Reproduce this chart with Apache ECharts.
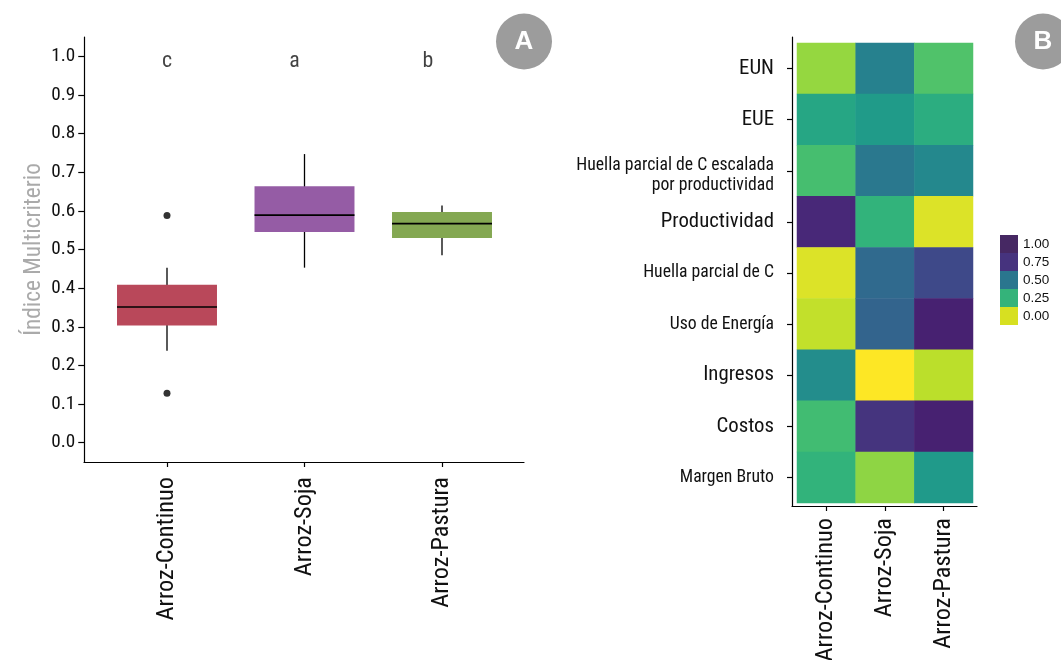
<!DOCTYPE html>
<html><head><meta charset="utf-8">
<script src="https://cdn.jsdelivr.net/npm/echarts@6/dist/echarts.min.js"></script>
<style>html,body{margin:0;padding:0;background:#fff}#c{width:1061px;height:660px}</style>
</head><body><div id="c"></div>
<script>
// ---------- data ----------
const systems = ['Arroz-Continuo', 'Arroz-Soja', 'Arroz-Pastura'];
const whiskerLow  = [0.238, 0.453, 0.485];
const quartile1   = [0.303, 0.545, 0.530];
const medians     = [0.351, 0.589, 0.567];
const quartile3   = [0.409, 0.664, 0.597];
const whiskerHigh = [0.453, 0.747, 0.614];
const outlierSystem = [0, 0];
const outlierValue  = [0.588, 0.128];
const groupLetters  = ['c', 'a', 'b'];
const yTickValues = [0, 0.1, 0.2, 0.3, 0.4, 0.5, 0.6, 0.7, 0.8, 0.9, 1.0];

const criteria = ['EUN', 'EUE', 'Huella parcial de C escalada\npor productividad', 'Productividad',
  'Huella parcial de C', 'Uso de Energía', 'Ingresos', 'Costos', 'Margen Bruto'];
const scoreContinuo = [0.16, 0.41, 0.30, 0.89, 0.05, 0.09, 0.51, 0.31, 0.35];
const scoreSoja     = [0.56, 0.455, 0.60, 0.35, 0.66, 0.68, 0.00, 0.85, 0.17];
const scorePastura  = [0.28, 0.38, 0.53, 0.05, 0.78, 0.91, 0.10, 0.91, 0.46];
const legendBreaks = [0, 0.25, 0.5, 0.75, 1];

// ---------- fonts: pick the narrowest available condensed family ----------
function hasFont(name) {
  const ctx = document.createElement('canvas').getContext('2d');
  const probe = 'Productividad mmmWWiil 0123';
  let differs = false;
  ['monospace', 'serif'].forEach(fb => {
    ctx.font = '40px ' + fb; const a = ctx.measureText(probe).width;
    ctx.font = '40px "' + name + '", ' + fb; const b = ctx.measureText(probe).width;
    if (Math.abs(a - b) > 0.5) differs = true;
  });
  return differs;
}
const candidates = ['Liberation Sans Narrow', 'Roboto Condensed', 'Noto Sans Condensed', 'Open Sans Condensed', 'DejaVu Sans Condensed'];
const narrowName = candidates.find(hasFont) || 'DejaVu Sans Condensed';
const NARROW = '"' + narrowName + '", sans-serif';
// width of the chosen font relative to Arial Narrow (per px of font size)
const widthFactor = (function () {
  const ctx = document.createElement('canvas').getContext('2d');
  ctx.font = '100px ' + NARROW;
  return ctx.measureText('Productividad').width / 100 / 4.968;
})();
const fs = s => Math.round(s / widthFactor * 10) / 10;

// ---------- styles ----------
const REGULAR = '"Liberation Sans", Arial, sans-serif';
const INK = '#111111';
const boxColors = ['#b9485a', '#955ca5', '#84a852'];
const BOX_FRACTION = 0.727;
const letterLevel = 0.99;
const letterDx = [0, -10, -14];
const viridisRev = ['#FDE725', '#B4DE2C', '#6DCD59', '#35B779', '#1F9E89', '#26828E', '#31688E', '#3E4A89', '#482878', '#440154'];
const legendColors = ['#d7e021', '#34b37a', '#2a768e', '#46337e', '#462863'];
const bigLabels = ['EUN', 'EUE', 'Productividad', 'Ingresos', 'Costos'];

const scoreColumns = [scoreContinuo, scoreSoja, scorePastura];
const heatData = [];
scoreColumns.forEach((col, xi) => col.forEach((v, yi) => heatData.push([xi, yi, v])));

const frameAxis = (grid, extra) => Object.assign({
  type: 'value', gridIndex: grid, min: 0, max: 1,
  axisLine: { show: true, onZero: false, lineStyle: { color: '#000', width: 1.2 } },
  axisTick: { show: false }, axisLabel: { show: false }, splitLine: { show: false }
}, extra || {});

function criterionLabel(v) {
  const lines = v.split('\n');
  if (bigLabels.includes(v)) return '{big|' + v + '}';
  if (lines.length > 1) return lines.map((line, k) => (k === 0 ? '{smallTop|' : '{small|') + line + '}').join('\n');
  return '{small|' + v + '}';
}

const chart = echarts.init(document.getElementById('c'), null, { renderer: 'canvas' });
chart.setOption({
  animation: false,
  backgroundColor: '#fff',
  grid: [
    { left: 98.25, top: 37, width: 412.5, height: 425, outerBoundsMode: 'none', containLabel: false },
    { left: 84, top: 37, width: 440, height: 425, outerBoundsMode: 'none', containLabel: false },
    { left: 797, top: 43, width: 176, height: 460, outerBoundsMode: 'none', containLabel: false },
    { left: 792, top: 37, width: 185, height: 469, outerBoundsMode: 'none', containLabel: false }
  ],
  xAxis: [
    { type: 'category', gridIndex: 0, data: systems,
      axisLine: { show: false, onZero: false },
      axisTick: { show: true, alignWithLabel: true, length: 5, lineStyle: { color: '#000', width: 1.2 } },
      axisLabel: { rotate: 90, margin: 15, fontSize: fs(26.6), color: INK, fontFamily: NARROW },
      splitLine: { show: false } },
    frameAxis(1),
    { type: 'category', gridIndex: 2, data: systems, offset: 3,
      axisLine: { show: false, onZero: false },
      axisTick: { show: true, alignWithLabel: true, length: 5, lineStyle: { color: '#000', width: 1.2 } },
      axisLabel: { rotate: 90, margin: 12, fontSize: fs(26.6), color: INK, fontFamily: NARROW },
      splitLine: { show: false } },
    frameAxis(3)
  ],
  yAxis: [
    { type: 'value', gridIndex: 0, min: -0.05, max: 1.05, offset: 14,
      axisLine: { show: false },
      axisTick: { show: true, length: 6, customValues: yTickValues, lineStyle: { color: '#000', width: 1.2 } },
      axisLabel: { customValues: yTickValues, formatter: v => v.toFixed(1), margin: 9, fontSize: fs(21), color: INK, fontFamily: NARROW },
      splitLine: { show: false } },
    frameAxis(1, { name: 'Índice Multicriterio', nameLocation: 'middle', nameGap: 38, nameRotate: 90,
      nameTextStyle: { fontSize: fs(25.5), color: '#aaaaaa', fontFamily: NARROW } }),
    { type: 'category', gridIndex: 2, data: criteria, inverse: true, offset: 5,
      axisLine: { show: false },
      axisTick: { show: true, alignWithLabel: true, length: 5, lineStyle: { color: '#000', width: 1.2 } },
      axisLabel: { margin: 18, align: 'right',
        formatter: criterionLabel,
        rich: {
          big: { fontSize: fs(22.8), fontFamily: NARROW, color: INK, align: 'right' },
          small: { fontSize: fs(19.4), fontFamily: NARROW, color: INK, lineHeight: 21, align: 'right' },
          smallTop: { fontSize: fs(19.4), fontFamily: NARROW, color: INK, lineHeight: 29, verticalAlign: 'bottom', align: 'right' }
        } },
      splitLine: { show: false } },
    frameAxis(3)
  ],
  visualMap: [
    { type: 'continuous', show: false, seriesIndex: 3, dimension: 2, min: 0, max: 1,
      inRange: { color: viridisRev } },
    { type: 'piecewise', seriesIndex: 4, left: 985, top: 220, orient: 'vertical', align: 'left',
      itemWidth: 18, itemHeight: 18, itemGap: 0, itemSymbol: 'rect', textGap: 5, selectedMode: false,
      pieces: legendBreaks.map((b, i) => ({ value: b, label: b.toFixed(2), color: legendColors[i] })),
      textStyle: { fontSize: 13.5, fontFamily: REGULAR, color: INK } }
  ],
  series: [
    { type: 'custom', xAxisIndex: 0, yAxisIndex: 0,
      data: systems.map((s, i) => [i, whiskerLow[i], quartile1[i], medians[i], quartile3[i], whiskerHigh[i]]),
      encode: { x: 0, y: [1, 2, 3, 4, 5] },
      renderItem: function (params, api) {
        const i = api.value(0);
        const pLow = api.coord([i, api.value(1)]);
        const pQ1 = api.coord([i, api.value(2)]);
        const pMed = api.coord([i, api.value(3)]);
        const pQ3 = api.coord([i, api.value(4)]);
        const pHigh = api.coord([i, api.value(5)]);
        const half = api.size([1, 0])[0] * BOX_FRACTION / 2;
        const cx = pMed[0];
        return { type: 'group', children: [
          { type: 'line', shape: { x1: cx, y1: pLow[1], x2: cx, y2: pHigh[1] }, style: { stroke: '#000', lineWidth: 1.3 } },
          { type: 'rect', shape: { x: cx - half, y: pQ3[1], width: half * 2, height: pQ1[1] - pQ3[1] }, style: { fill: boxColors[params.dataIndex] } },
          { type: 'line', shape: { x1: cx - half, y1: pMed[1], x2: cx + half, y2: pMed[1] }, style: { stroke: '#000', lineWidth: 1.6 } }
        ] };
      } },
    { type: 'scatter', xAxisIndex: 0, yAxisIndex: 0, symbolSize: 7,
      itemStyle: { color: '#000' },
      data: outlierSystem.map((s, i) => [s, outlierValue[i]]) },
    { type: 'scatter', xAxisIndex: 0, yAxisIndex: 0, symbolSize: 0, silent: true,
      data: groupLetters.map((l, i) => ({ value: [i, letterLevel],
        label: { show: true, position: 'inside', formatter: l, offset: [letterDx[i], 1],
          fontSize: fs(24), fontFamily: NARROW, color: INK } })) },
    { type: 'heatmap', xAxisIndex: 2, yAxisIndex: 2, data: heatData,
      emphasis: { disabled: true } },
    { type: 'scatter', xAxisIndex: 1, yAxisIndex: 1, data: [] }
  ],
  graphic: [
    { type: 'circle', shape: { cx: 524, cy: 41.5, r: 28 }, style: { fill: '#9c9c9c' } },
    { type: 'text', x: 524, y: 42, style: { text: 'A', fill: '#fff', fontSize: 26, fontWeight: 'bold', fontFamily: REGULAR, align: 'center', verticalAlign: 'middle' } },
    { type: 'circle', shape: { cx: 1043, cy: 41.5, r: 28 }, style: { fill: '#9c9c9c' } },
    { type: 'text', x: 1043, y: 42, style: { text: 'B', fill: '#fff', fontSize: 26, fontWeight: 'bold', fontFamily: REGULAR, align: 'center', verticalAlign: 'middle' } }
  ]
});
</script></body></html>
